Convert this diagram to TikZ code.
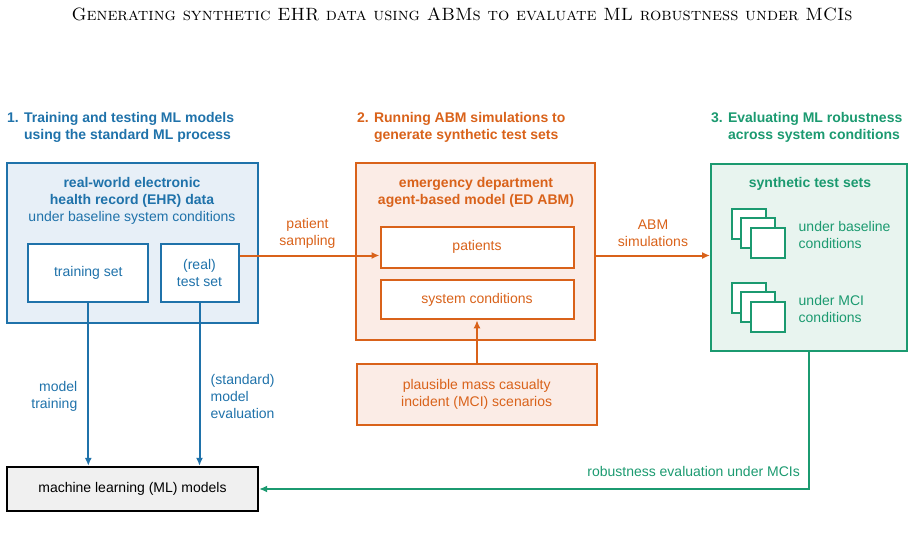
\documentclass[tikz,border=0pt]{standalone}
\usepackage{fontspec}
\newfontfamily\arialf{Liberation Sans}
\usetikzlibrary{arrows.meta}
\definecolor{cblue}{HTML}{1F72AA}
\definecolor{cbluel}{HTML}{E7EFF7}
\definecolor{corange}{HTML}{D9621A}
\definecolor{corangel}{HTML}{FBECE6}
\definecolor{cgreen}{HTML}{1B9A70}
\definecolor{cgreenl}{HTML}{E8F4EF}
\definecolor{cgrayl}{HTML}{F0F0F0}
\begin{document}
\begin{tikzpicture}[x=1pt,y=-1pt,
  txt/.style={font=\arialf\fontsize{14}{17}\selectfont, align=center, inner sep=0pt},
  btxt/.style={font=\arialf\bfseries\fontsize{14}{17}\selectfont, align=center, inner sep=0pt},
  head/.style={font=\arialf\bfseries\fontsize{14}{17}\selectfont, align=left, inner sep=0pt, anchor=west},
  frame/.style={draw, line width=2pt, inner sep=0pt},
  sq/.style={draw=cgreen, fill=white, line width=2pt, minimum width=34pt, minimum height=30pt, inner sep=0pt},
  conn/.style={line width=2pt, -{Latex[length=8pt,width=7pt]}}
]
\useasboundingbox (0,0) rectangle (916,541);

% title
\node[font=\fontsize{17.8}{20}\selectfont\scshape, inner sep=0pt] (title) at (462,14)
  {Generating synthetic EHR data using ABMs to evaluate ML robustness under MCIs};

% headings
\node[head, text=cblue] (h1) at (7,127) {1. Training and testing ML models\\\phantom{1. }using the standard ML process};
\node[head, text=corange] (h2) at (357,127) {2. Running ABM simulations to\\\phantom{2. }generate synthetic test sets};
\node[head, text=cgreen] (h3) at (711,127) {3. Evaluating ML robustness\\\phantom{3. }across system conditions};

% section 1
\node[frame, draw=cblue, fill=cbluel, minimum width=251pt, minimum height=160pt] (ehr) at (132.2,242.7) {};
\node[btxt, text=cblue] (ehrt) at (132,192) {real-world electronic\\health record (EHR) data};
\node[txt, text=cblue] (ehrs) at (132,217.5) {under baseline system conditions};
\node[frame, draw=cblue, fill=white, minimum width=120pt, minimum height=58pt, txt, text=cblue] (train) at (88.3,272.5) {training set};
\node[frame, draw=cblue, fill=white, minimum width=78pt, minimum height=58pt, txt, text=cblue] (test) at (199.5,272.5) {(real)\\test set};

% ML models
\node[draw=black, fill=cgrayl, line width=2.3pt, minimum width=251pt, minimum height=44pt, txt, text=black] (ml) at (132.5,489) {machine learning (ML) models};

% section 2
\node[frame, draw=corange, fill=corangel, minimum width=239pt, minimum height=177pt] (ed) at (475.5,251) {};
\node[btxt, text=corange] (edt) at (476,192.5) {emergency department\\agent-based model (ED ABM)};
\node[frame, draw=corange, fill=white, minimum width=193pt, minimum height=41pt, txt, text=corange] (pat) at (477,247) {patients};
\node[frame, draw=corange, fill=white, minimum width=193pt, minimum height=39pt, txt, text=corange] (sys) at (477,299.8) {system conditions};
\node[frame, draw=corange, fill=corangel, minimum width=240pt, minimum height=61pt, txt, text=corange] (mci) at (476.7,394.5) {plausible mass casualty\\incident (MCI) scenarios};

% section 3
\node[frame, draw=cgreen, fill=cgreenl, minimum width=196pt, minimum height=187pt] (syn) at (809,257.5) {};
\node[btxt, text=cgreen] (synt) at (810,183.5) {synthetic test sets};
\node[sq] (a1) at (748.7,224) {};
\node[sq] (a2) at (758.2,233.3) {};
\node[sq] (a3) at (767.7,242.7) {};
\node[txt, text=cgreen, align=left, anchor=west] (al) at (798.5,234.5) {under baseline\\conditions};
\node[sq] (b1) at (748.7,298) {};
\node[sq] (b2) at (758.2,307.3) {};
\node[sq] (b3) at (767.7,316.7) {};
\node[txt, text=cgreen, align=left, anchor=west] (bl) at (798.5,308.5) {under MCI\\conditions};

% connectors
\coordinate (row) at (300,255.5);
\draw[conn, draw=cblue] (train.south) -- (train.south |- ml.north);
\draw[conn, draw=cblue] (test.south) -- (test.south |- ml.north);
\node[txt, text=cblue, align=right, anchor=east] (mtl) at (77.5,396.5) {model\\training};
\node[txt, text=cblue, align=left, anchor=west] (mel) at (210.5,396.5) {(standard)\\model\\evaluation};

\draw[conn, draw=corange] (test.east |- row) -- (pat.west |- row);
\node[txt, text=corange] (psl) at (307.5,233) {patient\\sampling};
\draw[conn, draw=corange] (ed.east |- row) -- (syn.west |- row);
\node[txt, text=corange] (abl) at (653,233) {ABM\\simulations};
\draw[conn, draw=corange] (mci.north -| sys.south) -- (sys.south);

\draw[conn, draw=cgreen] (syn.south) |- (ml.east);
\node[txt, text=cgreen, anchor=east] (rel) at (800,471) {robustness evaluation under MCIs};
\end{tikzpicture}
\end{document}
